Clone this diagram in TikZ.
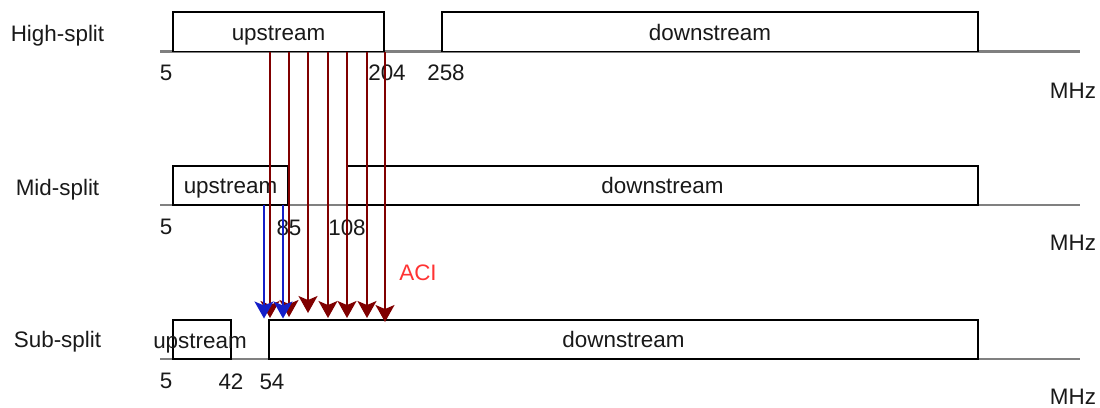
\documentclass[tikz,border=0pt]{standalone}
\usepackage{fontspec}
\setmainfont{Liberation Sans}
\usetikzlibrary{arrows.meta}
\definecolor{txt}{RGB}{25,25,25}
\definecolor{basegrey}{RGB}{128,128,128}
\definecolor{acibrown}{RGB}{128,0,0}
\definecolor{acblue}{RGB}{20,30,200}
\definecolor{acired}{RGB}{255,51,51}
\begin{document}
\begin{tikzpicture}[x=1bp,y=-1bp,
  lbl/.style={font=\fontsize{22.5}{27}\selectfont, text=txt, inner sep=0pt, anchor=center,
    text height=16.5bp, text depth=0pt},
  band/.style={draw=black, line width=1.8bp, fill=white, inner sep=0pt, anchor=center,
    font=\fontsize{22.5}{27}\selectfont, text=txt, text height=16.5bp, text depth=0pt},
  axisline/.style={draw=basegrey, line width=2.6bp},
  brownarrow/.style={draw=acibrown, line width=1.6bp,
    -{Stealth[length=17bp,width=19bp,inset=4bp]}},
  bluearrow/.style={draw=acblue, line width=1.6bp,
    -{Stealth[length=17bp,width=19bp,inset=4bp]}}
]
\useasboundingbox (0,0) rectangle (1100,407);

% axes
\coordinate (ha) at (160,51.5);  \coordinate (hb) at (1080,51.5);
\coordinate (ma) at (160,205);   \coordinate (mb) at (1080,205);
\coordinate (sa) at (160,359);   \coordinate (sb) at (1080,359);
\draw[axisline] (ha) -- (hb);
\draw[axisline] (ma) -- (mb);
\draw[axisline] (sa) -- (sb);

% row labels
\node[lbl] (lh) at (57.5,33.3) {High-split};
\node[lbl] (lm) at (57.5,186.8) {Mid-split};
\node[lbl] (ls) at (57.5,339) {Sub-split};

% bands
\node[band, minimum width=211bp, minimum height=39.5bp] (hu) at (278.5,31.75) {upstream};
\node[band, minimum width=536bp, minimum height=39.5bp] (hd) at (710,31.75) {downstream};
\node[band, minimum width=115bp, minimum height=39bp] (mu) at (230.5,185.5) {upstream};
\node[band, minimum width=631bp, minimum height=39bp] (md) at (662.5,185.5) {downstream};
\node[band, minimum width=58bp, minimum height=39bp] (su) at (202,339.5) {};
\node[band, minimum width=709bp, minimum height=39bp] (sd) at (623.5,339.5) {downstream};
\node[lbl] (sut) at (200,340) {upstream};

% tick labels
\node[lbl] (h5) at (166,72) {5};
\node[lbl] (h204) at (387,72) {204};
\node[lbl] (h258) at (446,72) {258};
\node[lbl] (hmhz) at (1073,90.5) {MHz};
\node[lbl] (m5) at (166,226) {5};
\node[lbl] (m85) at (289,227) {85};
\node[lbl] (m108) at (347,227) {108};
\node[lbl] (mmhz) at (1073,242) {MHz};
\node[lbl] (s5) at (166,380) {5};
\node[lbl] (s42) at (231,381) {42};
\node[lbl] (s54) at (272,381) {54};
\node[lbl] (smhz) at (1073,396) {MHz};

\node[lbl, text=acired] (aci) at (418,272) {ACI};

% interference arrows
\coordinate (b1s) at (270,51.5);  \coordinate (b1e) at (270,318);
\coordinate (b2s) at (289,51.5);  \coordinate (b2e) at (289,317);
\coordinate (b3s) at (308,51.5);  \coordinate (b3e) at (308,313);
\coordinate (b4s) at (328,51.5);  \coordinate (b4e) at (328,318);
\coordinate (b5s) at (347,51.5);  \coordinate (b5e) at (347,318);
\coordinate (b6s) at (367,51.5);  \coordinate (b6e) at (367,318);
\coordinate (b7s) at (385,51.5);  \coordinate (b7e) at (385,322);
\coordinate (u1s) at (264,205);   \coordinate (u1e) at (264,318.5);
\coordinate (u2s) at (283,205);   \coordinate (u2e) at (283,318.5);

\draw[brownarrow] (b1s) -- (b1e);
\draw[brownarrow] (b2s) -- (b2e);
\draw[brownarrow] (b3s) -- (b3e);
\draw[brownarrow] (b4s) -- (b4e);
\draw[brownarrow] (b5s) -- (b5e);
\draw[brownarrow] (b6s) -- (b6e);
\draw[brownarrow] (b7s) -- (b7e);
\draw[bluearrow] (u1s) -- (u1e);
\draw[bluearrow] (u2s) -- (u2e);
\end{tikzpicture}
\end{document}
